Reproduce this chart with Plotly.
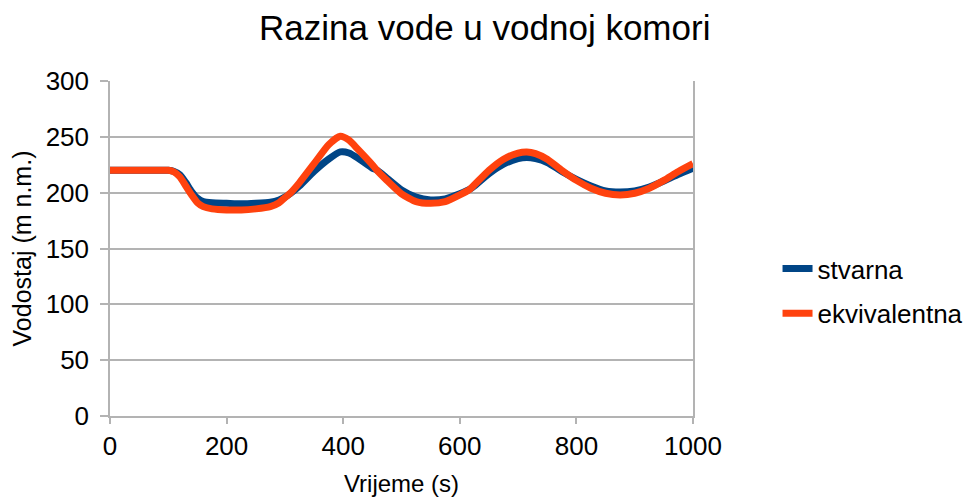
import plotly.graph_objects as go

# time (s)
t_stvarna = [0, 25, 50, 75, 100, 110, 120, 130, 140, 150, 160, 175, 200, 225, 250, 275, 290, 300, 310, 325,
             350, 375, 395, 410, 425, 450, 458, 475, 500, 525, 550, 575, 600, 617, 625, 650, 675, 700, 715,
             730, 750, 775, 800, 825, 850, 875, 900, 925, 950, 975, 1000]
stvarna = [220, 220, 220, 220, 220, 219, 216, 209, 201, 195, 192, 191, 190.5, 190, 190.5, 191.5, 193.5, 196, 199.5, 206,
           219, 230, 236.5, 235.5, 231, 222, 220, 213, 202.5, 196, 193.5, 194.5, 199, 203, 206, 217, 225.5, 230.5, 231.5,
           230.5, 227, 219, 212, 206, 201.5, 200.5, 201.5, 205, 210.5, 216.5, 222]

t_ekviv = [0, 25, 50, 75, 100, 110, 120, 130, 140, 150, 160, 175, 200, 225, 250, 275, 290, 300, 310, 325,
           350, 375, 395, 410, 425, 450, 458, 475, 500, 525, 550, 575, 600, 617, 625, 650, 675, 700, 715,
           730, 750, 775, 800, 825, 850, 875, 900, 925, 950, 975, 1000]
ekvivalentna = [220, 220, 220, 220, 220, 218.5, 214, 206, 198, 191, 187.5, 185.5, 184.5, 184.5, 185.5, 187.5, 191, 195.5, 200, 209,
                226, 243, 250.5, 247, 239, 225, 220, 211, 199, 192, 190.5, 192, 198, 203, 207, 220, 230, 235.5, 236.5,
                235, 230, 220, 211, 204, 199.5, 198, 199.5, 204, 211, 219, 226]

x_ticks = [0, 200, 400, 600, 800, 1000]
y_ticks = [0, 50, 100, 150, 200, 250, 300]

FONT = "Liberation Sans, Arial, sans-serif"
GRID = "#b3b3b3"

fig = go.Figure()
fig.add_trace(go.Scatter(x=t_stvarna, y=stvarna, mode="lines", name="stvarna",
                         line=dict(color="#004586", width=7, shape="spline", smoothing=0.6),
                         legendgroup="a"))
fig.add_trace(go.Scatter(x=t_ekviv, y=ekvivalentna, mode="lines", name="ekvivalentna",
                         line=dict(color="#ff420e", width=7, shape="spline", smoothing=0.6),
                         legendgroup="b"))

fig.update_layout(
    width=971, height=498,
    margin=dict(l=102, r=286, t=73, b=90, autoexpand=False),
    paper_bgcolor="white", plot_bgcolor="white",
    font=dict(family=FONT, color="black", size=26),
    title=dict(text="Razina vode u vodnoj komori", x=0.491, xanchor="center", xref="container",
               y=0.96, yanchor="middle", font=dict(size=35, family=FONT, color="black")),
    showlegend=True,
    legend=dict(x=1.145, xanchor="left", y=0.373, yanchor="middle",
                font=dict(size=26, family=FONT), tracegroupgap=8,
                bgcolor="rgba(0,0,0,0)"),
    xaxis=dict(range=[0, 1000], tickvals=x_ticks, ticktext=[str(v) for v in x_ticks],
               showgrid=False, zeroline=False, showline=True, linecolor=GRID, linewidth=1.5,
               ticks="outside", ticklen=6, tickcolor=GRID, tickwidth=1.5,
               tickfont=dict(size=26, family=FONT),
               title=dict(text="Vrijeme (s)", font=dict(size=24, family=FONT), standoff=15)),
    yaxis=dict(range=[0, 300], tickvals=y_ticks, ticktext=[str(v) for v in y_ticks],
               showgrid=True, gridcolor=GRID, gridwidth=1.5, zeroline=False,
               showline=True, linecolor=GRID, linewidth=1.5, mirror=True,
               ticks="outside", ticklen=8, tickcolor=GRID, tickwidth=1.5,
               tickfont=dict(size=26, family=FONT), ticklabelstandoff=6,
               title=dict(text="Vodostaj (m n.m.)", font=dict(size=25, family=FONT), standoff=10)),
)

fig.write_html("out.html")
